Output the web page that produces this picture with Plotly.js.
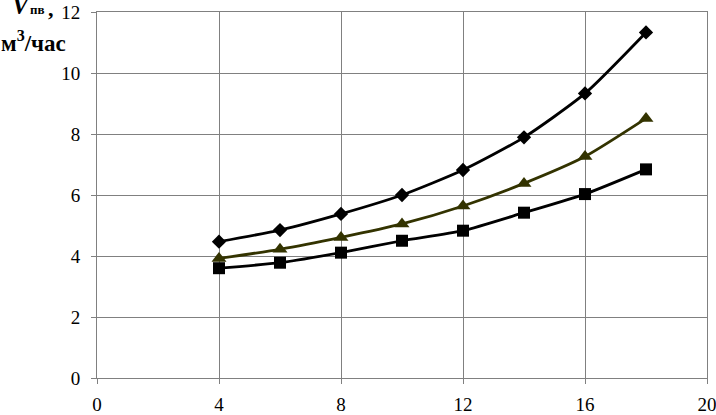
<!DOCTYPE html>
<html>
<head>
<meta charset="utf-8">
<script src="https://cdn.plot.ly/plotly-3.0.1.min.js"></script>
<style>html,body{margin:0;padding:0;background:#fff;}#chart{width:716px;height:415px;}</style>
</head>
<body>
<div id="chart"></div>
<script>
const xValues = [4, 6, 8, 10, 12, 14, 16, 18];
const seriesDiamond = [4.47, 4.85, 5.38, 6.0, 6.82, 7.89, 9.33, 11.33];
const seriesTriangle = [3.92, 4.22, 4.61, 5.05, 5.64, 6.38, 7.26, 8.51];
const seriesSquare = [3.6, 3.78, 4.11, 4.5, 4.83, 5.42, 6.03, 6.84];
const xTicks = [0, 4, 8, 12, 16, 20];
const yTicks = [0, 2, 4, 6, 8, 10, 12];

const W = 716, H = 415;
const M = {l: 97, r: 9, t: 12, b: 37};
const pw = W - M.l - M.r, ph = H - M.t - M.b;
const px = v => (v - M.l) / pw;
const py = v => (H - M.b - v) / ph;

const font = '"Liberation Serif", serif';

const traces = [
  {x: xValues, y: seriesDiamond, mode: 'lines+markers', line: {color: '#000000', width: 2.8, shape: 'spline', smoothing: 0.6},
   marker: {symbol: 'diamond', size: 11, color: '#000000'}},
  {x: xValues, y: seriesTriangle, mode: 'lines+markers', line: {color: '#333300', width: 2.8, shape: 'spline', smoothing: 0.6},
   marker: {symbol: 'triangle-up', size: 13, color: '#333300'}},
  {x: xValues, y: seriesSquare, mode: 'lines+markers', line: {color: '#000000', width: 2.8, shape: 'spline', smoothing: 0.6},
   marker: {symbol: 'square', size: 12, color: '#000000'}}
];

const layout = {
  width: W, height: H,
  margin: M,
  showlegend: false,
  paper_bgcolor: '#ffffff', plot_bgcolor: '#ffffff',
  font: {family: font, size: 19, color: '#000000'},
  xaxis: {range: [0, 20], tickvals: xTicks, ticktext: xTicks.map(String),
    showgrid: true, gridcolor: '#808080', gridwidth: 1,
    showline: true, linecolor: '#808080', linewidth: 1, mirror: true,
    ticks: 'outside', ticklen: 5, tickcolor: '#808080', ticklabelstandoff: 4,
    ticklabeloverflow: 'allow', automargin: false,
    zeroline: false, fixedrange: true, tickfont: {family: font, size: 19, color: '#000'}},
  yaxis: {range: [0, 12], tickvals: yTicks, ticktext: yTicks.map(String),
    showgrid: true, gridcolor: '#808080', gridwidth: 1,
    showline: true, linecolor: '#808080', linewidth: 1, mirror: true,
    ticks: 'outside', ticklen: 5, tickcolor: '#808080', ticklabelstandoff: 7,
    ticklabeloverflow: 'allow', automargin: false,
    zeroline: false, fixedrange: true, tickfont: {family: font, size: 19, color: '#000'}},
  annotations: [
    {text: '<b><i>V</i></b>', xref: 'paper', yref: 'paper', x: px(10), y: py(21), xanchor: 'left', yanchor: 'bottom',
     showarrow: false, font: {family: font, size: 25, color: '#000'}},
    {text: '<b>пв</b>', xref: 'paper', yref: 'paper', x: px(28), y: py(19), xanchor: 'left', yanchor: 'bottom',
     showarrow: false, font: {family: font, size: 13, color: '#000'}},
    {text: '<b>,</b>', xref: 'paper', yref: 'paper', x: px(46), y: py(23), xanchor: 'left', yanchor: 'bottom',
     showarrow: false, font: {family: font, size: 22, color: '#000'}},
    {text: '<b>м<sup>3</sup>/час</b>', xref: 'paper', yref: 'paper', x: px(-1), y: py(58), xanchor: 'left', yanchor: 'bottom',
     showarrow: false, font: {family: font, size: 23, color: '#000'}}
  ]
};

Plotly.newPlot('chart', traces, layout, {staticPlot: true, displayModeBar: false});
</script>
</body>
</html>
